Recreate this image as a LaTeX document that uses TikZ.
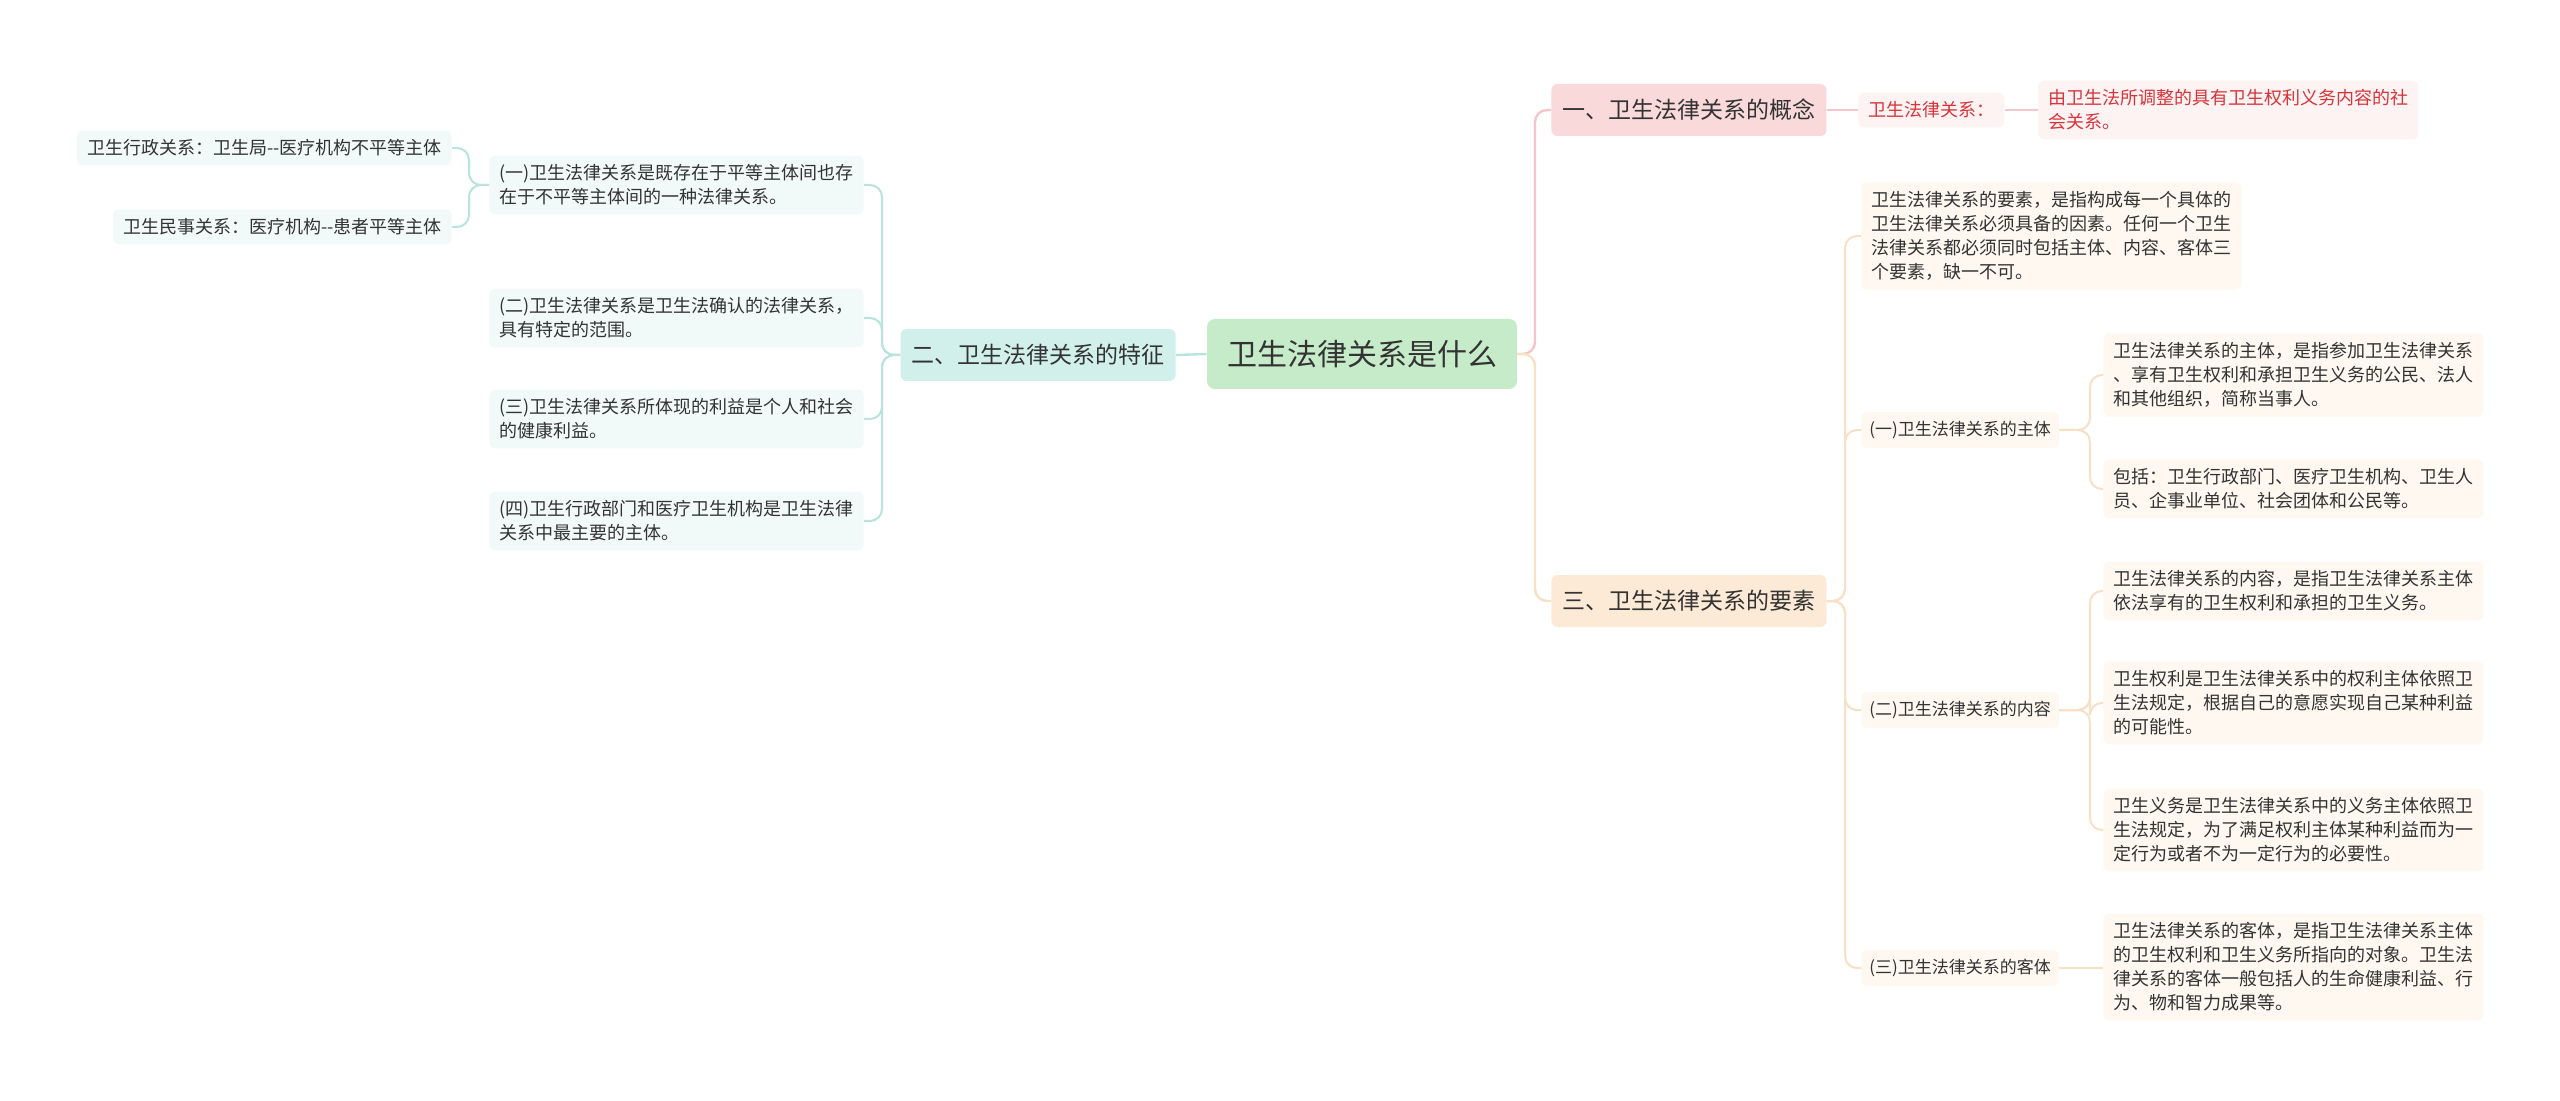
\documentclass[tikz,border=0pt]{standalone}
\usepackage{fontspec}
\setmainfont{Noto Sans CJK SC}
\definecolor{txt}{HTML}{333333}
\definecolor{rootfill}{HTML}{C6EBC9}
\definecolor{gtwofill}{HTML}{D1F0EB}
\definecolor{lfill}{HTML}{F1FAF9}
\definecolor{tealline}{HTML}{B8E4DB}
\definecolor{gonefill}{HTML}{F9D9D9}
\definecolor{redfill}{HTML}{FDF3F3}
\definecolor{redtxt}{HTML}{D8343A}
\definecolor{pinkline}{HTML}{F3C6C9}
\definecolor{gthreefill}{HTML}{FCEAD6}
\definecolor{ofill}{HTML}{FEF8F0}
\definecolor{orangeline}{HTML}{F8E0C4}
\begin{document}
\begin{tikzpicture}[x=0.5pt,y=-0.5pt,
  rootbox/.style={fill=rootfill, rounded corners=4pt, text=txt, font=\fontsize{15}{18}\selectfont, minimum height=35pt, inner xsep=10pt},
  branch/.style={rounded corners=3pt, text=txt, font=\fontsize{11.5}{14}\selectfont, minimum height=26pt, inner xsep=5.5pt},
  leaf/.style={rounded corners=3pt, text=txt, align=left, inner xsep=5pt, inner ysep=4.5pt, minimum height=17pt, font=\fontsize{9}{12}\selectfont},
  mid/.style={rounded corners=3pt, text=txt, inner xsep=4pt, inner ysep=4.5pt, minimum height=17pt, font=\fontsize{8.5}{12}\selectfont},
  link/.style={line width=1pt, rounded corners=6pt},
]
\useasboundingbox[fill=white] (0,0) rectangle (2560,1101);

% main nodes
\node[rootbox] (root) at (1362,354) {卫生法律关系是什么};
\node[branch, fill=gtwofill, anchor=east] (g2) at (1176,355) {二、卫生法律关系的特征};
\node[branch, fill=gonefill, anchor=west] (g1) at (1551,110) {一、卫生法律关系的概念};
\node[branch, fill=gthreefill, anchor=west] (g3) at (1551,601) {三、卫生法律关系的要素};

% left side
\node[leaf, fill=lfill, anchor=east] (a1) at (864,185) {(一)卫生法律关系是既存在于平等主体间也存\\在于不平等主体间的一种法律关系。};
\node[leaf, fill=lfill, anchor=east] (a2) at (864,318) {(二)卫生法律关系是卫生法确认的法律关系，\\具有特定的范围。};
\node[leaf, fill=lfill, anchor=east] (a3) at (864,419) {(三)卫生法律关系所体现的利益是个人和社会\\的健康利益。};
\node[leaf, fill=lfill, anchor=east] (a4) at (864,521) {(四)卫生行政部门和医疗卫生机构是卫生法律\\关系中最主要的主体。};
\node[leaf, fill=lfill, anchor=east] (a11) at (452,148) {卫生行政关系：卫生局{-}{-}医疗机构不平等主体};
\node[leaf, fill=lfill, anchor=east] (a12) at (452,227) {卫生民事关系：医疗机构{-}{-}患者平等主体};

% top right
\node[leaf, fill=redfill, text=redtxt, anchor=west] (r0) at (1858,110) {卫生法律关系：};
\node[leaf, fill=redfill, text=redtxt, anchor=west] (r1) at (2038,110) {由卫生法所调整的具有卫生权利义务内容的社\\会关系。};

% elements
\node[leaf, fill=ofill, anchor=west] (e0) at (1861,236) {卫生法律关系的要素，是指构成每一个具体的\\卫生法律关系必须具备的因素。任何一个卫生\\法律关系都必须同时包括主体、内容、客体三\\个要素，缺一不可。};
\node[mid, fill=ofill, anchor=west] (e1) at (1861,430) {(一)卫生法律关系的主体};
\node[mid, fill=ofill, anchor=west] (e2) at (1861,710) {(二)卫生法律关系的内容};
\node[mid, fill=ofill, anchor=west] (e3) at (1861,968) {(三)卫生法律关系的客体};

\node[leaf, fill=ofill, anchor=west] (f1) at (2103,375) {卫生法律关系的主体，是指参加卫生法律关系\\、享有卫生权利和承担卫生义务的公民、法人\\和其他组织，简称当事人。};
\node[leaf, fill=ofill, anchor=west] (f2) at (2103,489) {包括：卫生行政部门、医疗卫生机构、卫生人\\员、企事业单位、社会团体和公民等。};
\node[leaf, fill=ofill, anchor=west] (f3) at (2103,591) {卫生法律关系的内容，是指卫生法律关系主体\\依法享有的卫生权利和承担的卫生义务。};
\node[leaf, fill=ofill, anchor=west] (f4) at (2103,703) {卫生权利是卫生法律关系中的权利主体依照卫\\生法规定，根据自己的意愿实现自己某种利益\\的可能性。};
\node[leaf, fill=ofill, anchor=west] (f5) at (2103,830) {卫生义务是卫生法律关系中的义务主体依照卫\\生法规定，为了满足权利主体某种利益而为一\\定行为或者不为一定行为的必要性。};
\node[leaf, fill=ofill, anchor=west] (f6) at (2103,967) {卫生法律关系的客体，是指卫生法律关系主体\\的卫生权利和卫生义务所指向的对象。卫生法\\律关系的客体一般包括人的生命健康利益、行\\为、物和智力成果等。};

% bracket x positions
\coordinate (bL) at (882,0);
\coordinate (bLL) at (469,0);
\coordinate (bR) at (1535,0);
\coordinate (bE) at (1845,0);
\coordinate (bF) at (2090,0);

% connectors
\draw[link, tealline, line width=1.2pt] (root.west) -- (g2.east);
\foreach \c in {a1,a2,a3,a4}
  \draw[link, tealline] (g2.west) -- (g2.west -| bL) |- (\c.east);
\foreach \c in {a11,a12}
  \draw[link, tealline] (a1.west) -- (a1.west -| bLL) |- (\c.east);

\draw[link, pinkline, line width=1.2pt] (root.east) -- (root.east -| bR) |- (g1.west);
\draw[link, orangeline, line width=1.2pt] (root.east) -- (root.east -| bR) |- (g3.west);
\draw[link, pinkline] (g1.east) -- (r0.west);
\draw[link, pinkline] (r0.east) -- (r1.west);

\foreach \c in {e0,e1,e2,e3}
  \draw[link, orangeline] (g3.east) -- (g3.east -| bE) |- (\c.west);
\foreach \c in {f1,f2}
  \draw[link, orangeline] (e1.east) -- (e1.east -| bF) |- (\c.west);
\foreach \c in {f3,f4,f5}
  \draw[link, orangeline] (e2.east) -- (e2.east -| bF) |- (\c.west);
\draw[link, orangeline] (e3.east) -- (e3.east -| f6.west);
\end{tikzpicture}
\end{document}
